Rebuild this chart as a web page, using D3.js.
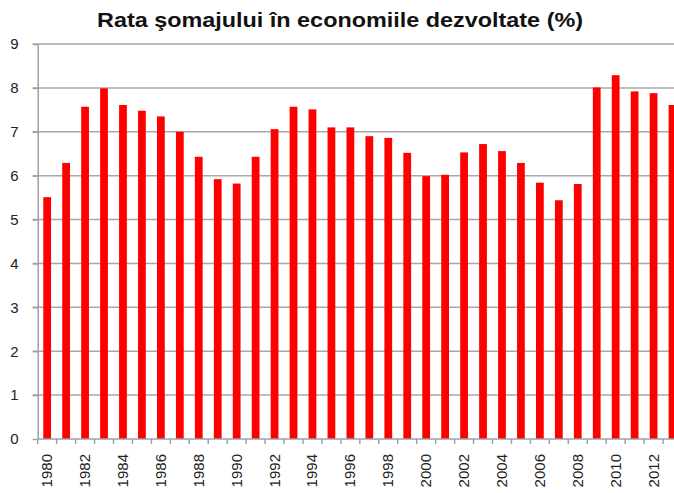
<html>
<head>
<script src="https://d3js.org/d3.v7.min.js"></script>
<style>
  body { margin: 0; background: #fff; }
  .grid line { stroke: #a8a8a8; stroke-width: 1.5px; }
  .axis path, .axis line { stroke: #a0a0a0; stroke-width: 1.5px; }
  .axis text { font-family: "Liberation Sans", Arial, sans-serif; font-size: 15px; fill: #222; }
</style>
</head>
<body>
<svg id="chart" width="674" height="493"></svg>
<script>
const title = "Rata şomajului în economiile dezvoltate (%)";
const years = d3.range(1980, 2014).map(String);
const rates = [5.51, 6.29, 7.57, 7.99, 7.61, 7.48, 7.35, 7.00, 6.43, 5.92,
               5.82, 6.43, 7.06, 7.57, 7.51, 7.10, 7.10, 6.90, 6.86, 6.52,
               5.99, 6.02, 6.53, 6.72, 6.56, 6.29, 5.84, 5.44, 5.81, 8.01,
               8.29, 7.92, 7.88, 7.61];
const yTicks = [0, 1, 2, 3, 4, 5, 6, 7, 8, 9];

const svg = d3.select("#chart");
const plotLeft = 37.7, plotTop = 44, plotBottom = 439;
const band = 18.95;

const x = d3.scaleBand().domain(years)
    .range([plotLeft, plotLeft + band * years.length])
    .paddingInner(0.59).paddingOuter(0.295);
const y = d3.scaleLinear().domain([0, 9]).range([plotBottom, plotTop]);

// gridlines
svg.append("g").attr("class", "grid")
  .selectAll("line").data(yTicks.slice(1))
  .join("line")
  .attr("x1", plotLeft - 5).attr("x2", 674)
  .attr("y1", d => y(d)).attr("y2", d => y(d));

// bars
svg.append("g").selectAll("rect").data(rates)
  .join("rect")
  .attr("x", (d, i) => x(years[i]))
  .attr("y", d => y(d))
  .attr("width", x.bandwidth())
  .attr("height", d => y(0) - y(d))
  .attr("fill", "#ff0000");

// y axis
svg.append("g").attr("class", "axis")
  .attr("transform", `translate(${plotLeft},0)`)
  .call(d3.axisLeft(y).tickValues(yTicks).tickSize(5).tickSizeOuter(0).tickPadding(14));

// x axis with ticks between categories
const bx = d3.scaleLinear().domain([0, years.length]).range([plotLeft, plotLeft + band * years.length]);
const xAxis = svg.append("g").attr("class", "axis")
  .attr("transform", `translate(0,${plotBottom})`);
xAxis.append("line").attr("x1", plotLeft).attr("x2", 674);
xAxis.selectAll("line.tick").data(d3.range(years.length + 1))
  .join("line").attr("class", "tick")
  .attr("x1", d => bx(d)).attr("x2", d => bx(d))
  .attr("y1", 0).attr("y2", 5);
xAxis.selectAll("text").data(years.filter((d, i) => i % 2 === 0))
  .join("text")
  .attr("transform", d => `translate(${x(d) + x.bandwidth() / 2 + 5},15) rotate(-90)`)
  .attr("text-anchor", "end")
  .text(d => d);

svg.append("text")
  .attr("x", 340).attr("y", 27)
  .attr("text-anchor", "middle")
  .attr("textLength", 486)
  .attr("lengthAdjust", "spacingAndGlyphs")
  .style("font-family", "'Liberation Sans', Arial, sans-serif")
  .style("font-weight", "bold")
  .style("font-size", "21px")
  .style("fill", "#111")
  .text(title);
</script>
</body>
</html>
